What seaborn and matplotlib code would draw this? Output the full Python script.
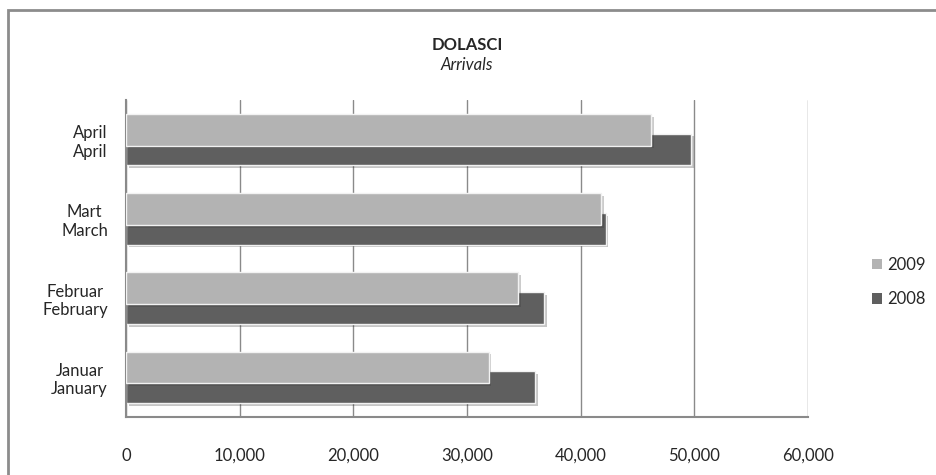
import numpy as np
import pandas as pd
import matplotlib
matplotlib.use("Agg")
import matplotlib.pyplot as plt
import matplotlib.patheffects as pe
from matplotlib.patches import Rectangle, Patch
import seaborn as sns

MONTHS = ["April\nApril", "Mart\nMarch", "Februar\nFebruary", "Januar\nJanuary"]
YEARS = ["2009", "2008"]
ARRIVALS_2009 = [46200, 41800, 34500, 31900]
ARRIVALS_2008 = [49700, 42200, 36800, 36000]
X_TICKS = [0, 10000, 20000, 30000, 40000, 50000, 60000]
COLORS = {"2009": "#b3b3b3", "2008": "#5f5f5f"}

df = pd.DataFrame({
    "month": MONTHS * 2,
    "year": ["2009"] * len(MONTHS) + ["2008"] * len(MONTHS),
    "arrivals": ARRIVALS_2009 + ARRIVALS_2008,
})

sns.set_theme(style="white")
plt.rcParams["font.family"] = ["Lato", "DejaVu Sans"]

W, H = 937, 475
fig = plt.figure(figsize=(W / 100, H / 100), dpi=100)
ax = fig.add_axes([126 / W, 1 - 417 / H, (808 - 126) / W, (417 - 100) / H])

sns.barplot(
    data=df, x="arrivals", y="month", hue="year", hue_order=YEARS,
    order=MONTHS, palette=COLORS, orient="h", width=0.5,
    errorbar=None, legend=False, ax=ax,
)

# widen the bars so the pair overlaps, 2009 drawn in front
bar_h = 0.40
shadow = [pe.SimplePatchShadow(offset=(2, -2), alpha=0.25), pe.Normal()]
for i, patch in enumerate(ax.patches):
    cy = patch.get_y() + patch.get_height() / 2
    patch.set_y(cy - bar_h / 2)
    patch.set_height(bar_h)
    patch.set_edgecolor("#f2f2f2")
    patch.set_linewidth(1.0)
    patch.set_path_effects(shadow)
    patch.set_zorder(3 if i < len(MONTHS) else 2)

ax.set_xlim(0, 60000)
ax.set_ylim(3.5, -0.5)
ax.set_xticks(X_TICKS)
ax.set_xticklabels([f"{v:,}" for v in X_TICKS], fontsize=12)
ax.tick_params(axis="x", length=0, pad=22)
ax.tick_params(axis="y", length=0, pad=13)
for lab in ax.get_yticklabels():
    lab.set_fontsize(12)
    lab.set_multialignment("center")
ax.set_xlabel("")
ax.set_ylabel("")

ax.grid(axis="x", color="#8a8a8a", linewidth=1.0, zorder=0)
ax.set_axisbelow(True)
for side in ["top", "right"]:
    ax.spines[side].set_visible(False)
for side in ["left", "bottom"]:
    ax.spines[side].set_color("#8a8a8a")
    ax.spines[side].set_linewidth(1.5)

fig.text(467 / W, 1 - 45 / H, "DOLASCI", ha="center", va="center",
         fontsize=12, fontweight="bold")
fig.text(467 / W, 1 - 65 / H, "Arrivals", ha="center", va="center",
         fontsize=12, style="italic")

handles = [Patch(facecolor=COLORS[y], edgecolor="none", label=y) for y in YEARS]
fig.legend(handles=handles, loc="center left", bbox_to_anchor=(872 / W, 1 - 282 / H),
           frameon=False, fontsize=12, handlelength=0.6, handleheight=0.6,
           handletextpad=0.3, labelspacing=1.1, borderpad=0, borderaxespad=0)

fig.patches.append(Rectangle((8 / W, -0.05), 1.1, 1.05 - 10 / H,
                             transform=fig.transFigure, fill=False,
                             edgecolor="#8c8c8c", linewidth=2, figure=fig))

fig.savefig("out.png", dpi=100)
